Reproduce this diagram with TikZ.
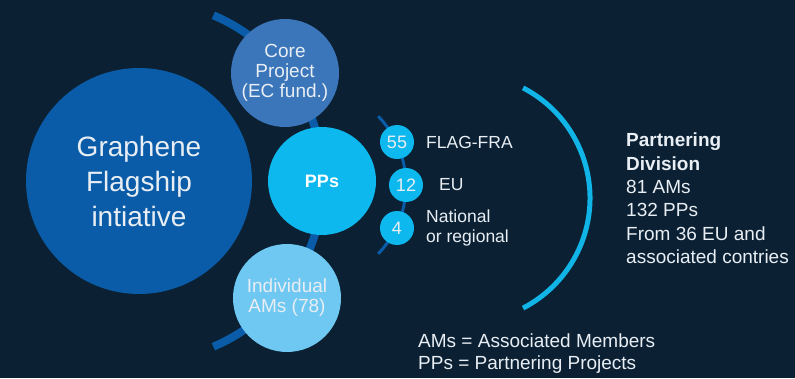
\documentclass[tikz,border=0pt]{standalone}
\usepackage{fontspec}
\setmainfont{Liberation Sans}
\definecolor{bgc}{HTML}{0B2133}
\definecolor{bigc}{HTML}{0A5CA8}
\definecolor{corec}{HTML}{3B76BA}
\definecolor{ppc}{HTML}{0DB8EE}
\definecolor{amc}{HTML}{6FC8F2}
\definecolor{lightarc}{HTML}{10B4E6}
\definecolor{txt}{HTML}{E8EEF4}
\begin{document}
\begin{tikzpicture}[x=1pt,y=1pt,
  disc/.style={circle,inner sep=0pt,text=txt,align=center},
  lbl/.style={text=txt,inner sep=0pt,anchor=west,align=left}]
\fill[bgc] (0,0) rectangle (795,378);
\useasboundingbox (0,0) rectangle (795,378);
% arcs
\draw[bigc,line width=8pt] (143,197) ++(67:180) arc[start angle=67,end angle=-67,radius=180];
\draw[bigc,line width=3pt] (307,193) ++(44:99) arc[start angle=44,end angle=-44,radius=99];
\draw[lightarc,line width=5pt] (466,180) ++(62.6:124) arc[start angle=62.6,end angle=-62.6,radius=124];
% circles
\node[disc,fill=bigc,minimum size=226pt,font=\fontsize{28}{35}\selectfont] (gf) at (139,197) {Graphene\\Flagship\\intiative};
\node[disc,fill=corec,minimum size=108pt,font=\fontsize{19}{20}\selectfont] (core) at (285,305) {Core\\Project\\(EC fund.)};
\node[disc,fill=ppc,minimum size=108pt,text=white,font=\fontsize{18}{20}\selectfont\bfseries] (pps) at (322,197) {PPs};
\node[disc,fill=amc,minimum size=108pt,font=\fontsize{19}{20}\selectfont] (ams) at (287,80) {Individual\\AMs (78)};
\node[disc,fill=ppc,minimum size=34pt,font=\fontsize{18}{20}\selectfont] (n55) at (397,236) {55};
\node[disc,fill=ppc,minimum size=34pt,font=\fontsize{18}{20}\selectfont] (n12) at (406,193) {12};
\node[disc,fill=ppc,minimum size=34pt,font=\fontsize{18}{20}\selectfont] (n4) at (397,150) {4};
% labels
\node[lbl,font=\fontsize{17.5}{20}\selectfont] (l55) at (426,236) {FLAG-FRA};
\node[lbl,font=\fontsize{17.5}{20}\selectfont] (l12) at (439,193) {EU};
\node[lbl,font=\fontsize{17.5}{20}\selectfont] (l4) at (426,150) {National\\or regional};
\node[lbl,font=\fontsize{19}{23.4}\selectfont] (pd) at (626,179.5) {\textbf{Partnering}\\\textbf{Division}\\81 AMs\\132 PPs\\From 36 EU and\\associated contries};
\node[lbl,font=\fontsize{19}{22}\selectfont] (leg) at (418,24) {AMs = Associated Members\\PPs = Partnering Projects};
\end{tikzpicture}
\end{document}
